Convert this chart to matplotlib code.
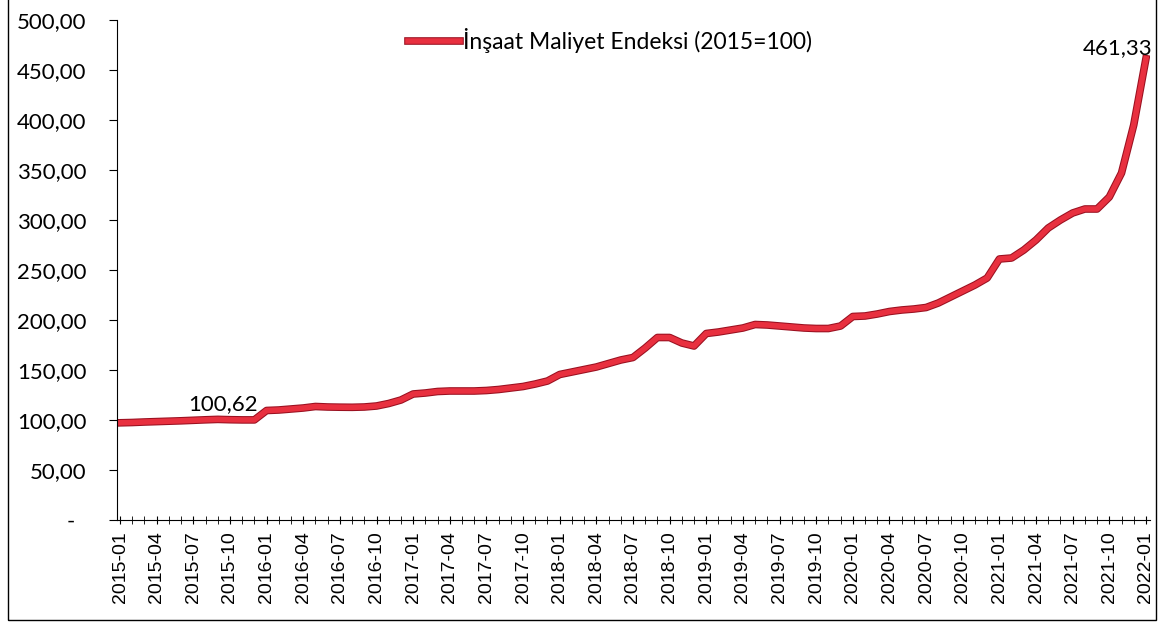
import matplotlib.pyplot as plt
import matplotlib.patheffects as pe
from matplotlib.patches import Rectangle
from matplotlib.ticker import FuncFormatter

plt.rcParams['font.family'] = ['Lato', 'DejaVu Sans']

# aylar 2015-01 .. 2022-01
aylar = [f"{y}-{m:02d}" for y in range(2015, 2023) for m in range(1, 13)][:85]

endeks = [
    97.2, 97.5, 98.0, 98.4, 98.8, 99.2, 99.7, 100.2, 100.62, 100.3, 100.1, 100.1,   # 2015
    109.5, 110.0, 111.0, 112.0, 113.5, 113.0, 112.8, 112.7, 113.0, 114.0, 116.5, 120.0,  # 2016
    126.0, 127.0, 128.5, 129.0, 129.0, 129.0, 129.5, 130.5, 132.0, 133.5, 136.0, 139.0,  # 2017
    145.5, 148.0, 150.5, 153.0, 156.5, 160.0, 162.5, 172.0, 182.5, 182.5, 177.0, 174.0,  # 2018
    186.5, 188.0, 190.0, 192.0, 195.5, 195.0, 194.0, 193.0, 192.0, 191.5, 191.5, 194.0,  # 2019
    203.5, 204.0, 206.0, 208.5, 210.0, 211.0, 212.5, 217.0, 223.0, 229.0, 235.0, 242.0,  # 2020
    261.0, 262.0, 270.0, 280.0, 292.0, 300.0, 307.0, 311.0, 311.0, 323.0, 347.0, 395.0,  # 2021
    461.33,  # 2022-01
]

etiketler = {8: "100,62", 84: "461,33"}
seri_adi = "İnşaat Maliyet Endeksi (2015=100)"

fig = plt.figure(figsize=(11.61, 6.25), dpi=100)
ax = fig.add_axes([0.1008, 0.168, 0.8897, 0.8])

x = list(range(len(endeks)))
ax.plot(x, endeks, color='#e8303f', lw=4, solid_joinstyle='round',
        path_effects=[pe.Stroke(linewidth=5.5, foreground='#9a1020'), pe.Normal()],
        label=seri_adi)

for i, txt in etiketler.items():
    if i == 84:
        ax.annotate(txt, (i, endeks[i]), xytext=(4.5, 3.5), textcoords='offset points',
                    ha='right', va='baseline', fontsize=16)
    else:
        ax.annotate(txt, (i, endeks[i]), xytext=(3.5, 6.5), textcoords='offset points',
                    ha='center', va='baseline', fontsize=16)

ax.set_ylim(0, 500)
ax.set_xlim(-0.246, 84.33)
ax.set_yticks(range(0, 501, 50))
ax.yaxis.set_major_formatter(FuncFormatter(lambda v, p: '-  ' if v == 0 else f"{v:.2f}".replace('.', ',')))
ax.tick_params(axis='y', labelsize=16, length=5.8, pad=16)

ax.set_xticks(x, minor=True)
ax.set_xticks(x[::3])
ax.set_xticklabels(aylar[::3], rotation=90, fontsize=14, family=['Liberation Sans'])
ax.tick_params(axis='x', which='both', direction='inout', length=6, pad=5)

for s in ['top', 'right']:
    ax.spines[s].set_visible(False)

ax.legend(loc='upper center', bbox_to_anchor=(0.477, 1.025), frameon=False, fontsize=16.5,
          handlelength=2.3, handletextpad=0.1)

fig.add_artist(Rectangle((0.007, 0.008), 0.989, 1.2, transform=fig.transFigure,
                         fill=False, edgecolor='black', lw=1))

plt.savefig('out.png', dpi=100)
